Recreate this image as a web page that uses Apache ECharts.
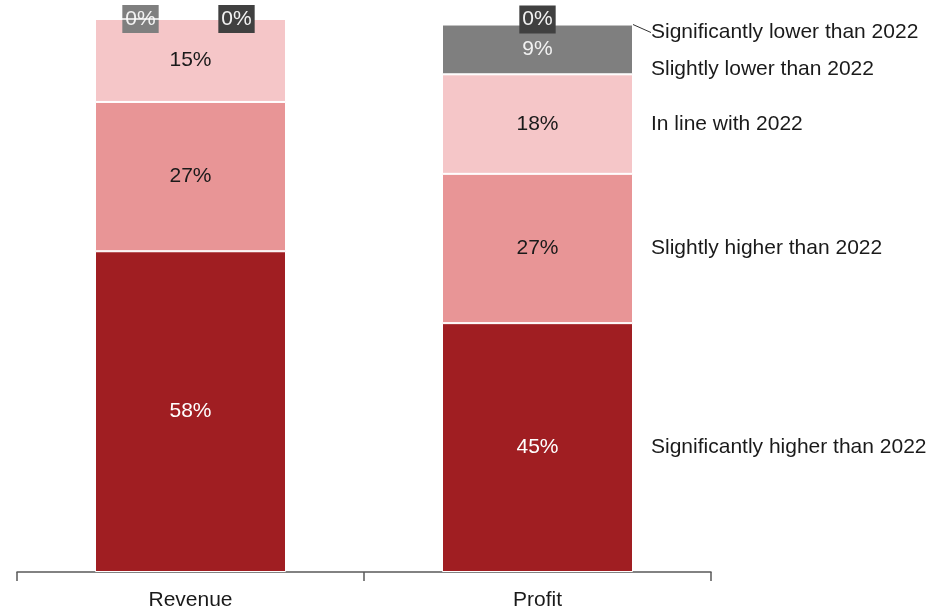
<!DOCTYPE html>
<html>
<head>
<meta charset="utf-8">
<script src="https://cdn.jsdelivr.net/npm/echarts@6/dist/echarts.min.js"></script>
<style>
html,body{margin:0;padding:0;background:#fff;}
#chart{width:945px;height:610px;}
</style>
</head>
<body>
<div id="chart"></div>
<script>
// Expected 2023 outlook vs 2022, share of respondents (%)
const categories = ['Revenue', 'Profit'];
const segmentNames = [
  'Significantly higher than 2022',
  'Slightly higher than 2022',
  'In line with 2022',
  'Slightly lower than 2022',
  'Significantly lower than 2022'
];
const sigHigher = [58, 45];
const slightHigher = [27, 27];
const inLine = [15, 18];
const slightLower = [0, 9];
const sigLower = [0, 0];

const seriesValues = [sigHigher, slightHigher, inLine, slightLower, sigLower];
const colors = ['#A01E22', '#E89596', '#F5C6C8', '#7F7F7F', '#404040'];
const labelColors = ['#ffffff', '#1a1a1a', '#1a1a1a', '#f2f2f2', '#f2f2f2'];

const FONT = 'Liberation Sans, Arial, sans-serif';
const FS = 21;

function valueLabel(i, catIdx) {
  const base = {
    show: true,
    position: 'inside',
    color: labelColors[i],
    fontFamily: FONT,
    fontSize: FS,
    formatter: p => p.value + '%'
  };
  // zero-height segments get a boxed label sitting on the bar top
  if (seriesValues[i][catIdx] === 0) {
    base.backgroundColor = colors[i];
    base.padding = [4, 3, 3, 3];
    if (catIdx === 0) {
      base.offset = [i === 3 ? -50 : 46, 0];
    } else {
      base.offset = [0, -5];
    }
  }
  return base;
}

const series = [];
seriesValues.forEach((vals, i) => {
  series.push({
    name: segmentNames[i],
    type: 'bar',
    stack: 'share',
    barWidth: 191,
    barGap: '-100%',
    itemStyle: { color: colors[i], borderColor: '#ffffff', borderWidth: 1 },
    data: vals.map((v, c) => ({ value: v, label: valueLabel(i, c) })),
    z: 2 + i
  });
});

// Transparent twin stack carrying the segment names beside the Profit bar
const nameShift = [0, 0, 0, 20, 8];
seriesValues.forEach((vals, i) => {
  series.push({
    name: segmentNames[i] + ' ',
    type: 'bar',
    stack: 'names',
    barWidth: 191,
    barGap: '-100%',
    silent: true,
    itemStyle: { color: 'rgba(0,0,0,0)' },
    data: vals.map((v, c) => ({
      value: v,
      label: {
        show: c === 1,
        position: 'right',
        distance: 18,
        color: '#1a1a1a',
        fontFamily: FONT,
        fontSize: FS,
        formatter: segmentNames[i]
      },
      labelLine: { show: i === 4, lineStyle: { color: '#333', width: 1 } }
    })),
    labelLayout: { dy: nameShift[i] },
    z: 20
  });
});

const chart = echarts.init(document.getElementById('chart'), null, { renderer: 'canvas' });
chart.setOption({
  animation: false,
  backgroundColor: '#ffffff',
  grid: { left: 17, right: 234, top: 19, bottom: 38, containLabel: false, outerBoundsMode: 'none' },
  xAxis: {
    type: 'category',
    data: categories,
    axisLine: { lineStyle: { color: '#595959', width: 1.5 } },
    axisTick: { show: true, alignWithLabel: false, length: 9, lineStyle: { color: '#595959', width: 1.5 } },
    axisLabel: { color: '#1a1a1a', fontFamily: FONT, fontSize: FS, margin: 18 }
  },
  yAxis: {
    type: 'value',
    min: 0,
    max: 100,
    show: false,
    splitLine: { show: false }
  },
  series: series
});
</script>
</body>
</html>
